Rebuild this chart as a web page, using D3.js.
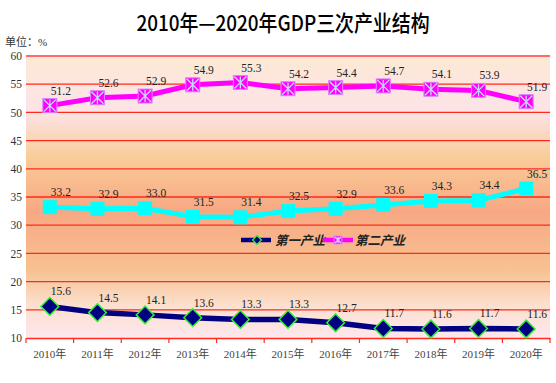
<!DOCTYPE html>
<html><head><meta charset="utf-8">
<script src="https://cdn.jsdelivr.net/npm/d3@7/dist/d3.min.js"></script>
<style>body{margin:0;background:#fff}svg{display:block}</style>
</head><body>
<script>
const years = ["2010年","2011年","2012年","2013年","2014年","2015年","2016年","2017年","2018年","2019年","2020年"];
const primary = [15.6,14.5,14.1,13.6,13.3,13.3,12.7,11.7,11.6,11.7,11.6];
const secondary = [51.2,52.6,52.9,54.9,55.3,54.2,54.4,54.7,54.1,53.9,51.9];
const tertiary = [33.2,32.9,33.0,31.5,31.4,32.5,32.9,33.6,34.3,34.4,36.5];
const yTicks = [10,15,20,25,30,35,40,45,50,55,60];
const seriesNames = ["第一产业","第二产业","第三产业"];

const W=556,H=383;
const m={l:26,r:6,t:56,b:45};
const svg=d3.select("body").append("svg").attr("width",W).attr("height",H);
const x=d3.scaleBand().domain(years).range([m.l,W-m.r]);
const y=d3.scaleLinear().domain([10,60]).range([H-m.b,m.t]);

const defs=svg.append("defs");
const g=defs.append("linearGradient").attr("id","bg").attr("x1",0).attr("y1",0).attr("x2",0).attr("y2",1);
[[0,"#fce9d3"],[0.12,"#fde5e2"],[0.2,"#fce3e6"],[0.36,"#f9cc98"],[0.55,"#f7a883"],[0.76,"#f8c192"],[0.88,"#fcdfcc"],[1,"#fde7ee"]]
 .forEach(([o,c])=>g.append("stop").attr("offset",o).attr("stop-color",c));

svg.append("rect").attr("x",m.l).attr("y",m.t).attr("width",W-m.r-m.l).attr("height",H-m.b-m.t).attr("fill","url(#bg)");

// title
svg.append("text").attr("x",283).attr("y",31).attr("text-anchor","middle")
 .attr("font-family","'Noto Sans CJK SC'").attr("font-size",22).attr("font-weight",500).attr("fill","#000")
 .attr("transform","translate(283,0) scale(0.86,1) translate(-283,0)")
 .text("2010年—2020年GDP三次产业结构");
svg.append("text").attr("x",5).attr("y",46).attr("font-family","'Liberation Serif','Noto Sans CJK SC'").attr("font-size",11).attr("fill","#333").text("单位：%");

// grid
svg.append("g").selectAll("line").data(yTicks.filter(d=>d>10)).join("line")
 .attr("x1",m.l).attr("x2",W-m.r).attr("y1",d=>y(d)).attr("y2",d=>y(d))
 .attr("stroke",d=>d===60?"#ff6b6b":"#ff2a1a").attr("stroke-width",d=>d===60?2:1.3);

// y axis labels
const ya=svg.append("g").attr("transform",`translate(${m.l},0)`).call(d3.axisLeft(y).tickValues(yTicks).tickSize(0).tickPadding(4));
ya.select(".domain").remove();
ya.selectAll("text").attr("font-family","'Liberation Serif'").attr("font-size",11.5).attr("fill","#333");

// x axis
const xa=svg.append("g").attr("transform",`translate(0,${H-m.b})`).call(d3.axisBottom(x).tickSize(0).tickPadding(12));
xa.select(".domain").attr("stroke","#ff2a1a").attr("stroke-width",1.3);
xa.selectAll("text").attr("font-family","'Liberation Serif','Noto Sans CJK SC'").attr("font-size",11).attr("fill","#444");
svg.append("g").selectAll("line").data(d3.range(years.length+1)).join("line")
 .attr("x1",i=>m.l+i*x.step()).attr("x2",i=>m.l+i*x.step())
 .attr("y1",H-m.b).attr("y2",H-m.b+5).attr("stroke","#ff2a1a").attr("stroke-width",1.2);

const cx=(d,i)=>x(years[i])+x.bandwidth()/2;
const line=d3.line().x((d,i)=>cx(d,i)).y(d=>y(d));

function labels(data){
 svg.append("g").selectAll("text").data(data).join("text")
  .attr("x",(d,i)=>cx(d,i)+11).attr("y",(d,i)=>y(d)-11)
  .attr("text-anchor","middle").attr("font-family","'Liberation Serif'").attr("font-size",11.5).attr("fill","#222")
  .text(d=>d.toFixed(1));
}

// tertiary
svg.append("path").datum(tertiary).attr("d",line).attr("fill","none").attr("stroke","#00ffff").attr("stroke-width",5);
svg.append("g").selectAll("rect").data(tertiary).join("rect")
 .attr("x",(d,i)=>cx(d,i)-7).attr("y",d=>y(d)-7).attr("width",14).attr("height",14).attr("fill","#00ffff");
labels(tertiary);

// secondary
svg.append("path").datum(secondary).attr("d",line).attr("fill","none").attr("stroke","#ff00ff").attr("stroke-width",5);
function xMarker(sel,px,py,s){
 const gg=sel.append("g").attr("transform",`translate(${px},${py})`);
 gg.append("rect").attr("x",-s).attr("y",-s).attr("width",2*s).attr("height",2*s).attr("fill","#ff00ff").attr("stroke","#e080ff").attr("stroke-width",1);
 gg.append("path").attr("d",`M${-s+1},${-s+1}L${s-1},${s-1}M${-s+1},${s-1}L${s-1},${-s+1}M0,${-s+1}L0,${s-1}`).attr("stroke","#c8d8ff").attr("stroke-width",1.3);
}
const sm=svg.append("g");
secondary.forEach((d,i)=>xMarker(sm,cx(d,i),y(d),7));
labels(secondary);

// primary
svg.append("path").datum(primary).attr("d",line).attr("fill","none").attr("stroke","#000080").attr("stroke-width",5.5);
const dia=d3.symbol().type(d3.symbolDiamond2).size(200);
svg.append("g").selectAll("path").data(primary).join("path")
 .attr("transform",(d,i)=>`translate(${cx(d,i)},${y(d)})`).attr("d",dia)
 .attr("fill","#000080").attr("stroke","#33ee33").attr("stroke-width",1.5);
labels(primary);

// legend
const lg=svg.append("g").attr("transform","translate(241,240)");
lg.append("line").attr("x1",0).attr("x2",30).attr("stroke","#000080").attr("stroke-width",4.5);
lg.append("path").attr("transform","translate(16,0)").attr("d",d3.symbol().type(d3.symbolDiamond2).size(50)).attr("fill","#000080").attr("stroke","#33ee33").attr("stroke-width",1.3);
lg.append("text").attr("x",34).attr("y",5).text(seriesNames[0]);
lg.append("line").attr("x1",82).attr("x2",112).attr("stroke","#ff00ff").attr("stroke-width",4.5);
xMarker(lg,97,0,4);
lg.append("text").attr("x",114).attr("y",5).text(seriesNames[1]);
lg.selectAll("text").attr("font-family","'Noto Sans CJK SC'").attr("font-size",12.5).attr("font-style","italic").attr("font-weight","bold").attr("fill","#222");
</script>
</body></html>
